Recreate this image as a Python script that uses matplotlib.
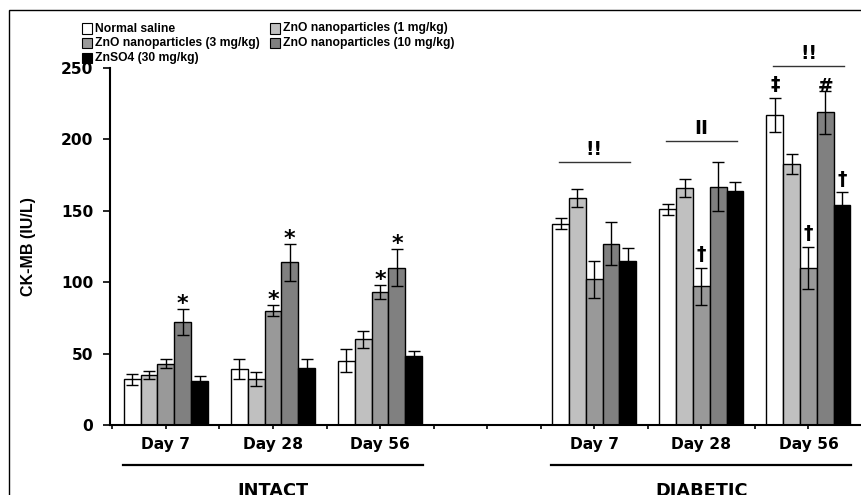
import matplotlib
matplotlib.use("Agg")
import matplotlib.pyplot as plt
import matplotlib.transforms as mtransforms
from matplotlib.patches import Rectangle
from matplotlib.lines import Line2D
import numpy as np

# ---------------- data ----------------
series = ["Normal saline", "ZnO nanoparticles (1 mg/kg)", "ZnO nanoparticles (3 mg/kg)",
          "ZnO nanoparticles (10 mg/kg)", "ZnSO4 (30 mg/kg)"]
colors = ["#ffffff", "#c0c0c0", "#999999", "#808080", "#000000"]
day_labels = ["Day 7", "Day 28", "Day 56"]
group_names = ["INTACT", "DIABETIC"]

# rows: Day 7, Day 28, Day 56 ; columns: series order
intact_mean = [[32, 35, 43, 72, 31],
               [39, 32, 80, 114, 40],
               [45, 60, 93, 110, 48]]
intact_err = [[4, 3, 3, 9, 3],
              [7, 5, 4, 13, 6],
              [8, 6, 5, 13, 4]]
diab_mean = [[141, 159, 102, 127, 115],
             [151, 166, 97, 167, 164],
             [217, 183, 110, 219, 154]]
diab_err = [[4, 6, 13, 15, 9],
            [4, 6, 13, 17, 6],
            [12, 7, 15, 15, 9]]

# significance marks: (block, day index, series index, symbol)
marks = [(0, 0, 3, "*"), (0, 1, 2, "*"), (0, 1, 3, "*"), (0, 2, 2, "*"), (0, 2, 3, "*"),
         (1, 1, 2, "\u2020"), (1, 2, 2, "\u2020"), (1, 2, 4, "\u2020"),
         (1, 2, 0, "\u2021"), (1, 2, 3, "#")]
# group brackets over diabetic days: (day index, y level, symbol)
brackets = [(0, 184, "!!"), (1, 199, "II"), (2, 251.5, "!!")]

# ---------------- figure ----------------
W, H = 862, 495
fig = plt.figure(figsize=(W / 100, H / 100), dpi=100)
ax = fig.add_axes([110 / W, 1 - 425 / H, 1 - 110 / W, (425 - 68) / H])

bw = 0.157
block_offsets = [0, 4]
means = [intact_mean, diab_mean]
errs = [intact_err, diab_err]
centers = {}
for b in range(2):
    m = np.array(means[b])
    e = np.array(errs[b])
    for s in range(5):
        x = np.arange(3) + block_offsets[b] + (s - 2) * bw
        ax.bar(x, m[:, s], width=bw, color=colors[s], edgecolor="black", linewidth=1.0,
               yerr=e[:, s], error_kw=dict(ecolor="black", elinewidth=1.0, capsize=4, capthick=1.0),
               zorder=2)
        for d in range(3):
            centers[(b, d, s)] = (x[d], m[d, s] + e[d, s])

ax.set_ylim(0, 250)
ax.set_xlim(-0.522, 6.486)
ax.set_yticks([0, 50, 100, 150, 200, 250])
ax.set_xticks(range(7))
ax.set_xticklabels(day_labels + [""] + day_labels)
ax.set_xticks(np.arange(-0.5, 6.6, 0.5), minor=True)
ax.tick_params(axis="x", which="both", direction="out", length=3, width=1.2, pad=6)
ax.tick_params(axis="y", direction="out", length=5, width=1.2, pad=7)
for lab in ax.get_xticklabels() + ax.get_yticklabels():
    lab.set_fontfamily("DejaVu Sans")
    lab.set_fontweight("bold")
    lab.set_fontsize(11.2)
for side in ["top", "right"]:
    ax.spines[side].set_visible(False)
for side in ["left", "bottom"]:
    ax.spines[side].set_linewidth(1.5)
ax.set_ylabel("CK-MB (IU/L)", fontfamily="Liberation Sans", fontweight="bold", fontsize=11.5,
              labelpad=18)

# significance marks (offsets in data units relative to top of error bar)
offs = {"*": -3.5, "\u2020": 2.5, "\u2021": 2.5, "#": -3.5}
sizes = {"*": 16, "\u2020": 13.5, "\u2021": 13.5, "#": 13.5}
for b, d, s, sym in marks:
    x, top = centers[(b, d, s)]
    ax.text(x, top + offs[sym], sym, ha="center", va="bottom",
            fontfamily="DejaVu Sans", fontweight="bold", fontsize=sizes[sym],
            clip_on=False, zorder=3)

for d, yl, sym in brackets:
    xc = 4 + d
    ax.add_line(Line2D([xc - 0.33, xc + 0.33], [yl, yl], color="#333333", lw=1.0, clip_on=False))
    ax.text(xc, yl + 2, sym, ha="center", va="bottom", fontfamily="DejaVu Sans",
            fontweight="bold", fontsize=13.5, clip_on=False)

# group lines and names below axis
trans = mtransforms.blended_transform_factory(ax.transData, fig.transFigure)
for b in range(2):
    x0 = block_offsets[b] - 0.4
    x1 = block_offsets[b] + 2.4
    fig.add_artist(Line2D([x0, x1], [1 - 465 / H, 1 - 465 / H], transform=trans, color="black", lw=1.6))
    fig.text(block_offsets[b] + 1, 1 - 482 / H, group_names[b], transform=trans, ha="center", va="top",
             fontfamily="DejaVu Sans", fontweight="bold", fontsize=12.8)

# legend (manual, row-major)
leg_pos = [(82, 28.5), (270, 28.5), (82, 43), (270, 43), (82, 58)]
for s in range(5):
    lx, ly = leg_pos[s]
    fig.add_artist(Rectangle((lx / W, 1 - (ly + 5) / H), 10 / W, 10 / H, transform=fig.transFigure,
                             facecolor=colors[s], edgecolor="black", lw=0.8))
    fig.text((lx + 13) / W, 1 - ly / H, series[s], ha="left", va="center",
             fontfamily="Liberation Sans", fontweight="bold", fontsize=8.7)

# outer frame
fig.add_artist(Rectangle((9 / W, -0.2), 2.0, 1 - 10 / H + 0.2, transform=fig.transFigure,
                         facecolor="none", edgecolor="black", lw=1.0, clip_on=False))

fig.savefig("out.png", dpi=100)
